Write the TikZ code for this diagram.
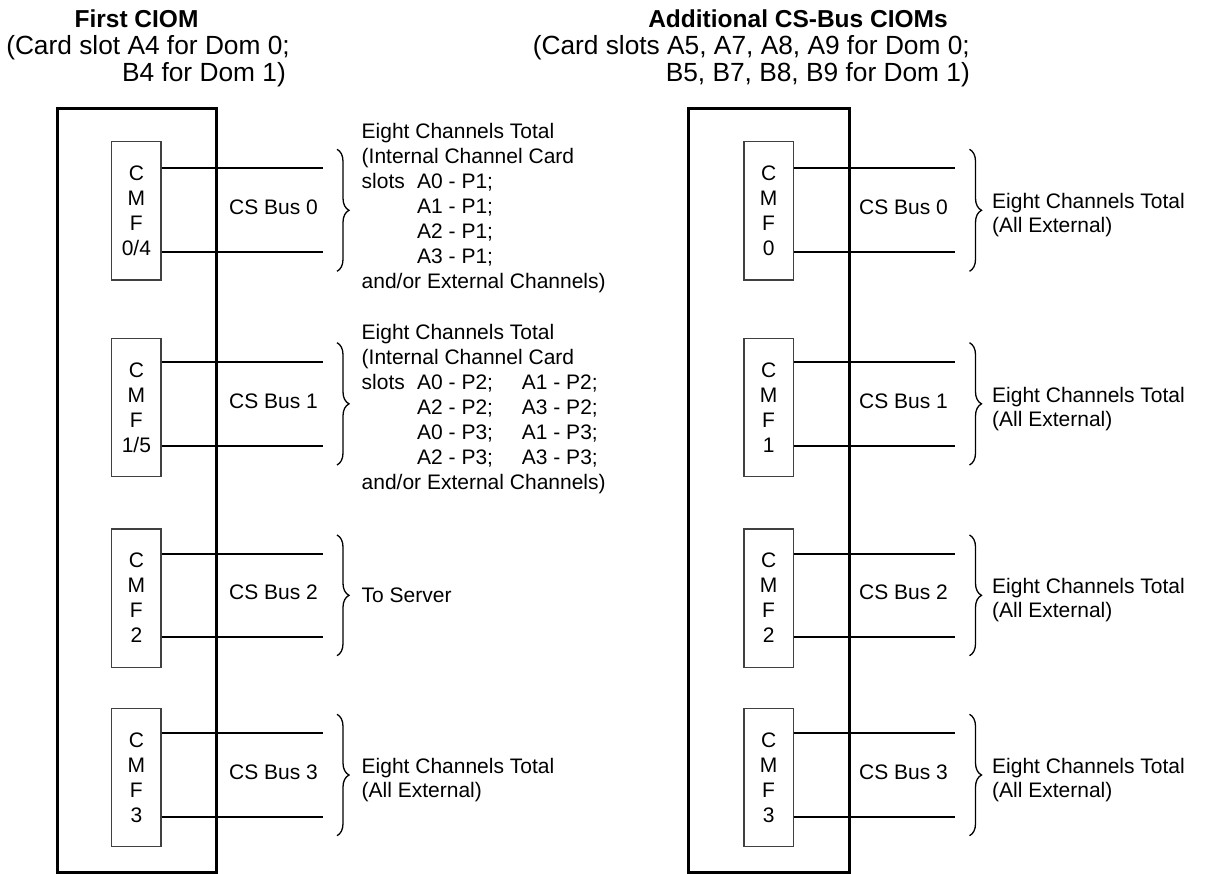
\documentclass[tikz,border=0pt]{standalone}
\usepackage{fontspec}
\setmainfont{Liberation Sans}
\usetikzlibrary{decorations.pathreplacing}
\newcommand\bodyfont{\fontsize{21}{25}\selectfont}
\newcommand\headfont{\fontsize{26.3}{27}\selectfont}
\newcommand\titlefont{\fontsize{24.5}{27}\selectfont\bfseries}
\tikzset{
  ciom/.style={draw, line width=3pt, inner sep=0},
  cmfbox/.style={draw=black!75, line width=1.2pt, minimum width=49.3pt, minimum height=138.3pt, inner sep=0, align=center, font=\bodyfont},
  bus/.style={line width=2pt},
  brc/.style={decorate, decoration={brace, amplitude=12pt}, line width=1.3pt},
  txt/.style={inner sep=0, align=left, font=\bodyfont},
  buslabel/.style={inner sep=0, font=\bodyfont},
  hd/.style={inner sep=0, font=\headfont},
  ttl/.style={inner sep=0, font=\titlefont}
}
\begin{document}
\begin{tikzpicture}[x=1pt,y=-1pt]
\useasboundingbox (0,0) rectangle (1206,874);
% headings
\node[ttl, anchor=base] (t1) at (136.5,28) {First CIOM};
\node[hd, anchor=base east] (t1a) at (290,55) {(Card slot A4 for Dom 0;};
\node[hd, anchor=base east] (t1b) at (286,82) {B4 for Dom 1)};
\node[ttl, anchor=base] (t2) at (798,28) {Additional CS-Bus CIOMs};
\node[hd, anchor=base east] (t2a) at (970,55) {(Card slots A5, A7, A8, A9 for Dom 0;};
\node[hd, anchor=base east] (t2b) at (970,82) {B5, B7, B8, B9 for Dom 1)};
% outer boxes
\node[ciom, minimum width=159.7pt, minimum height=763pt] (ciomL) at (136.85,490.5) {};
\node[ciom, minimum width=160.6pt, minimum height=763pt] (ciomR) at (769,490.5) {};
% CMF boxes
\node[cmfbox] (cL0) at (136.35,210.85) {C\\M\\F\\0/4};
\node[cmfbox] (cL1) at (136.35,407.5) {C\\M\\F\\1/5};
\node[cmfbox] (cL2) at (136.35,598.15) {C\\M\\F\\2};
\node[cmfbox] (cL3) at (136.35,777.5) {C\\M\\F\\3};
\node[cmfbox] (cR0) at (768.65,210.85) {C\\M\\F\\0};
\node[cmfbox] (cR1) at (768.65,407.5) {C\\M\\F\\1};
\node[cmfbox] (cR2) at (768.65,598.15) {C\\M\\F\\2};
\node[cmfbox] (cR3) at (768.65,777.5) {C\\M\\F\\3};
% bus line ends
\coordinate (eL0a) at (323,168.3); \coordinate (eL0b) at (323,252.3);
\coordinate (eL1a) at (323,361.7); \coordinate (eL1b) at (323,446);
\coordinate (eL2a) at (323,554);   \coordinate (eL2b) at (323,636.7);
\coordinate (eL3a) at (323,733.3); \coordinate (eL3b) at (323,816.7);
\coordinate (eR0a) at (955,168.3); \coordinate (eR0b) at (955,252.3);
\coordinate (eR1a) at (955,361.7); \coordinate (eR1b) at (955,446);
\coordinate (eR2a) at (955,554);   \coordinate (eR2b) at (955,636.7);
\coordinate (eR3a) at (955,733.3); \coordinate (eR3b) at (955,816.7);
\foreach \s in {L,R}{
  \foreach \r in {0,1,2,3}{
    \draw[bus] (c\s\r.east |- e\s\r a) -- (e\s\r a);
    \draw[bus] (c\s\r.east |- e\s\r b) -- (e\s\r b);
  }
}
% bus labels
\node[buslabel] (bL0) at (273.5,207) {CS Bus 0};
\node[buslabel] (bL1) at (273.5,401) {CS Bus 1};
\node[buslabel] (bL2) at (273.5,592) {CS Bus 2};
\node[buslabel] (bL3) at (273.5,772) {CS Bus 3};
\node[buslabel] (bR0) at (903.5,207) {CS Bus 0};
\node[buslabel] (bR1) at (903.5,401) {CS Bus 1};
\node[buslabel] (bR2) at (903.5,592) {CS Bus 2};
\node[buslabel] (bR3) at (903.5,772) {CS Bus 3};
% braces
\draw[brc] (337,149.3) -- (337,271.3);
\draw[brc] (337,342.7) -- (337,465);
\draw[brc] (337,535) -- (337,655.7);
\draw[brc] (337,714.3) -- (337,835.7);
\draw[brc] (969.5,149.3) -- (969.5,271.3);
\draw[brc] (969.5,342.7) -- (969.5,465);
\draw[brc] (969.5,535) -- (969.5,655.7);
\draw[brc] (969.5,714.3) -- (969.5,835.7);
% descriptions
\node[txt, anchor=west] (dL0) at (361.5,208.5) {Eight Channels Total\\(Internal Channel Card\\\makebox[55.5pt][l]{slots}A0 - P1;\\\makebox[55.5pt]{}A1 - P1;\\\makebox[55.5pt]{}A2 - P1;\\\makebox[55.5pt]{}A3 - P1;\\and/or External Channels)};
\node[txt, anchor=west] (dL1) at (361.5,409.5) {Eight Channels Total\\(Internal Channel Card\\\makebox[55.5pt][l]{slots}\makebox[104.7pt][l]{A0 - P2;}A1 - P2;\\\makebox[55.5pt]{}\makebox[104.7pt][l]{A2 - P2;}A3 - P2;\\\makebox[55.5pt]{}\makebox[104.7pt][l]{A0 - P3;}A1 - P3;\\\makebox[55.5pt]{}\makebox[104.7pt][l]{A2 - P3;}A3 - P3;\\and/or External Channels)};
\node[txt, anchor=west] (dL2) at (361.5,595.3) {To Server};
\node[txt, anchor=west, font=\fontsize{21}{24}\selectfont] (dL3) at (361.5,780) {Eight Channels Total\\(All External)};
\foreach \r/\m in {0/210.3,1/403.9,2/595.3,3/775}{
  \node[txt, anchor=west, font=\fontsize{21}{24}\selectfont] (dR\r) at (992,\m+5) {Eight Channels Total\\(All External)};
}
\end{tikzpicture}
\end{document}
